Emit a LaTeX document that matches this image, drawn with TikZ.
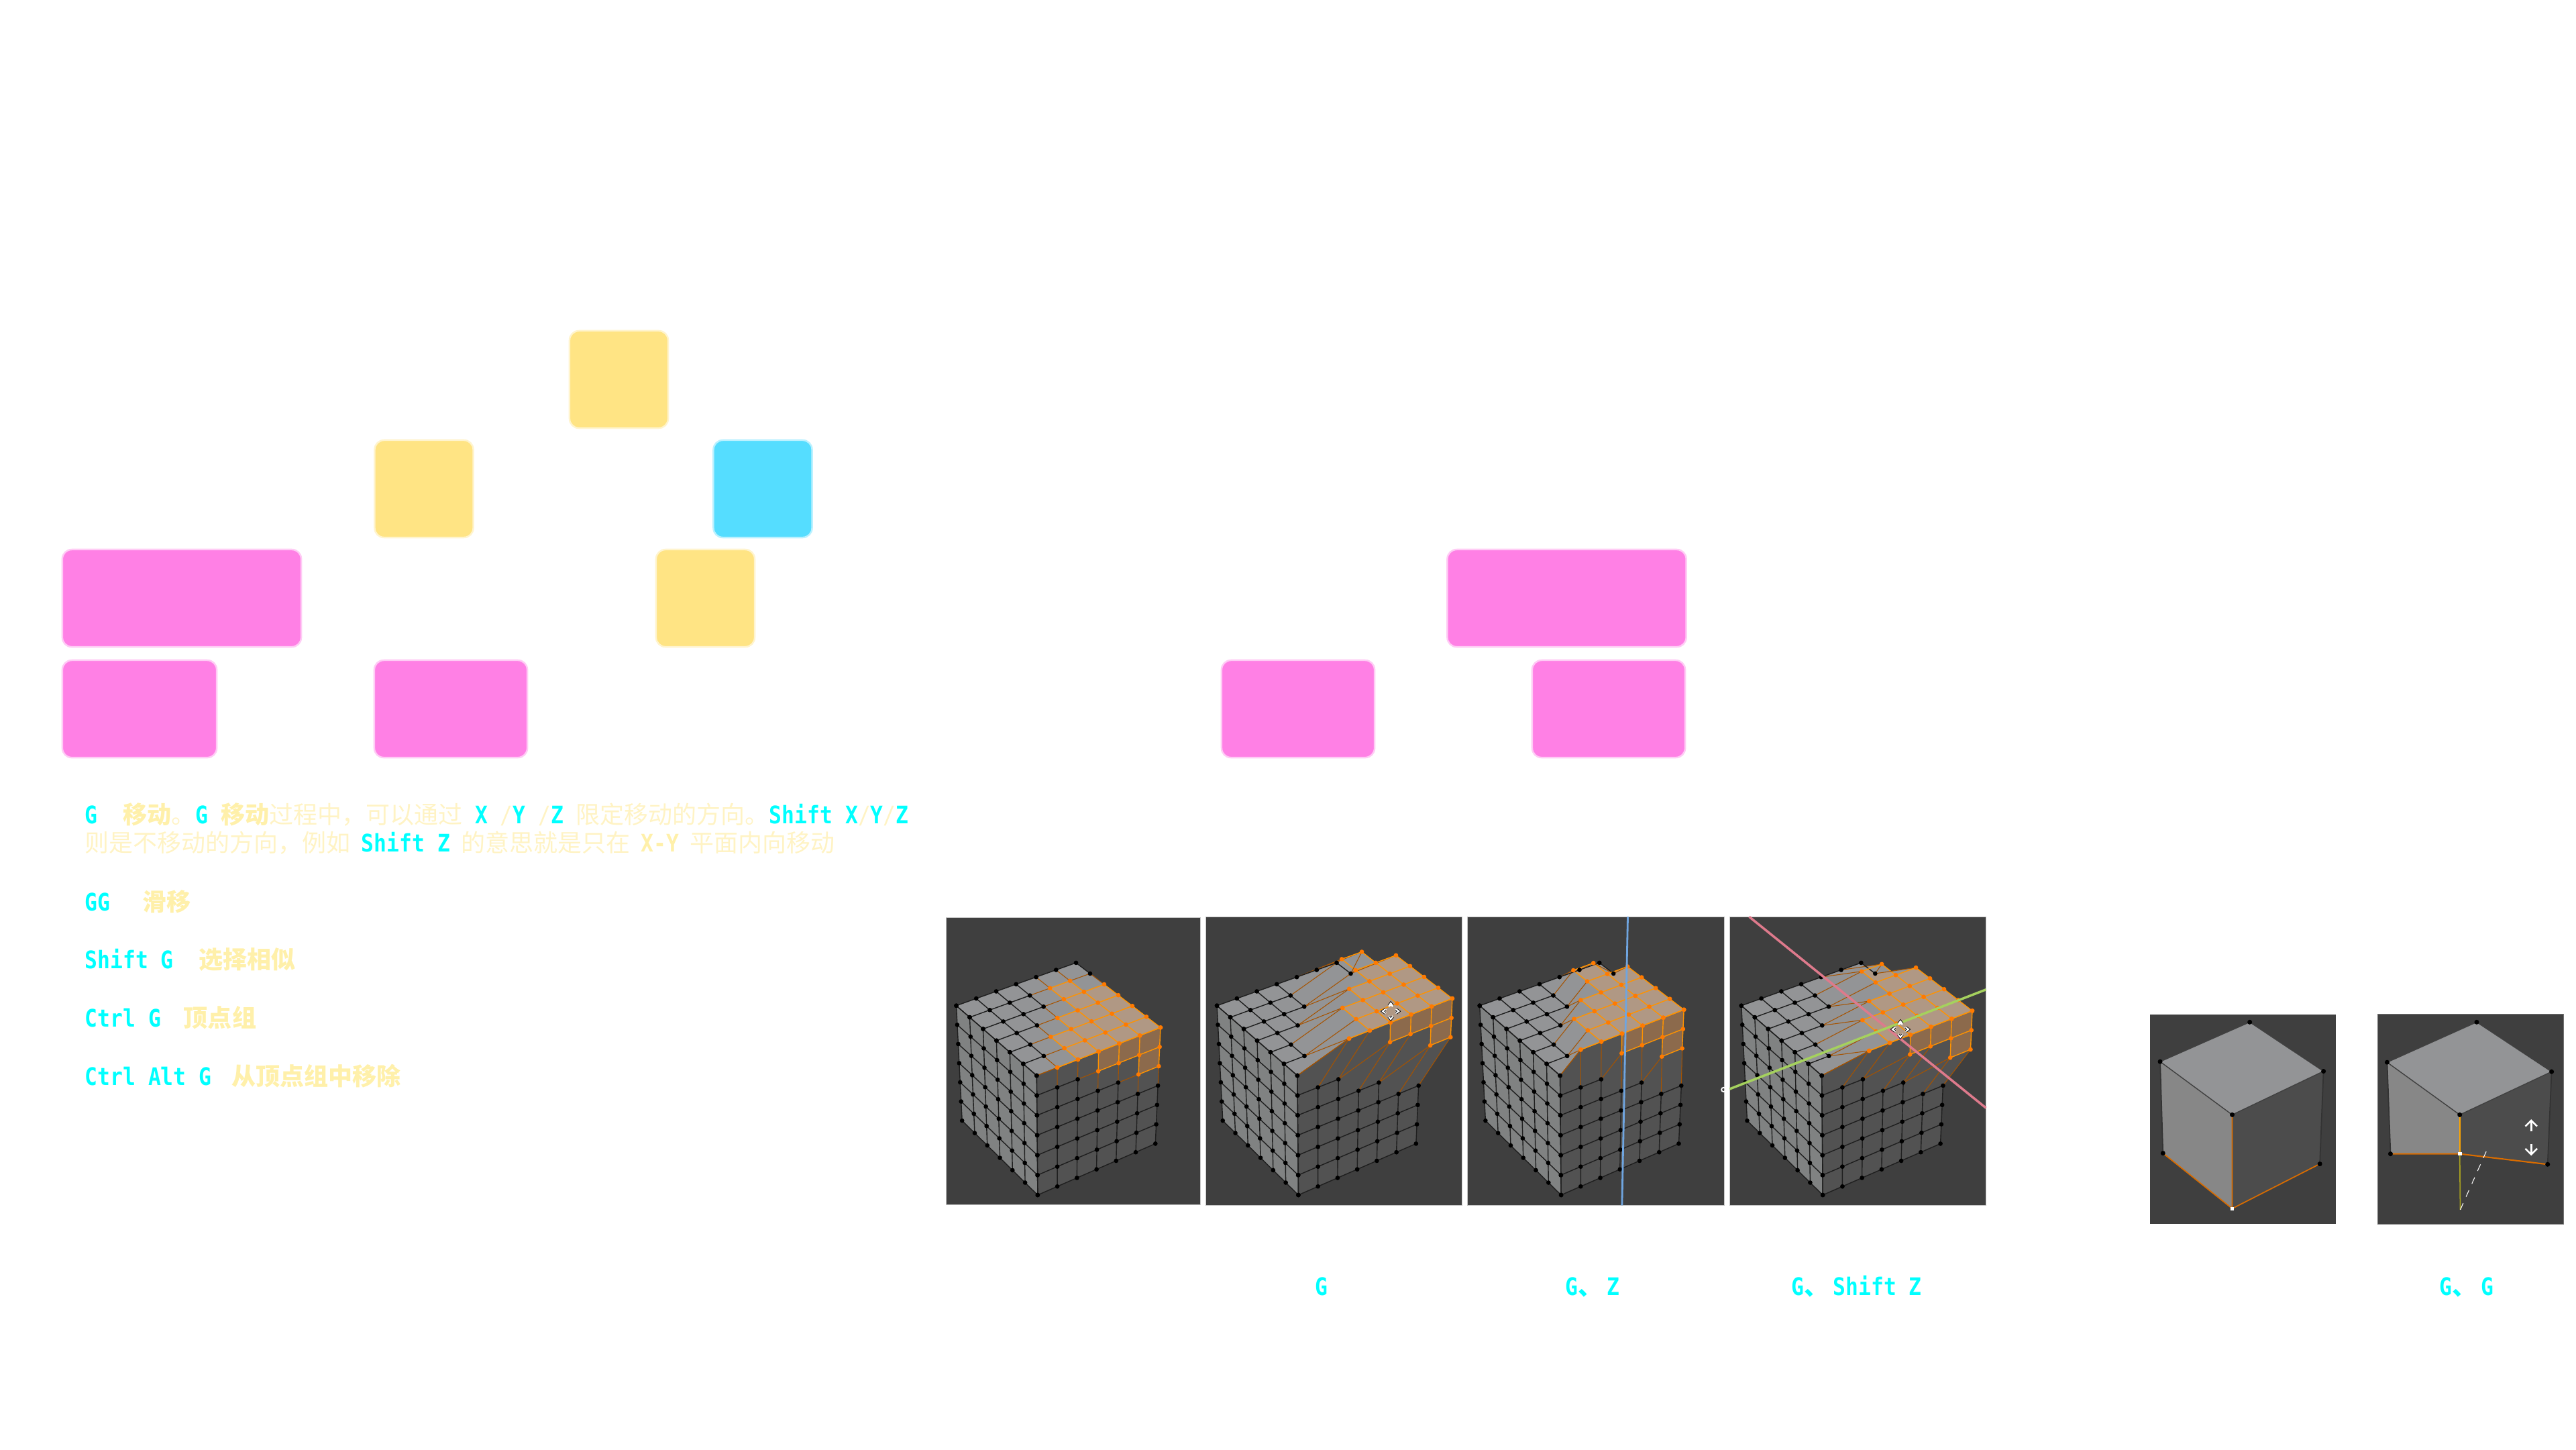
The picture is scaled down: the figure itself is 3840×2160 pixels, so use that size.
\documentclass[tikz,border=0pt]{standalone}
\usepackage{fontspec}
\usepackage{tikz}
\usetikzlibrary{arrows.meta,positioning,calc}
\setmainfont{Noto Sans CJK SC}
\newfontfamily\keyfont[FakeStretch=0.87]{DejaVu Sans Mono}

\definecolor{boxyellow}{HTML}{FFE484}
\definecolor{boxcyan}{HTML}{55DDFF}
\definecolor{boxpink}{HTML}{FF80E5}
\definecolor{keycyan}{HTML}{00FFFF}
\definecolor{notecream}{HTML}{FFF0AA}
\definecolor{thincream}{HTML}{FFF3C4}
\definecolor{panelgrey}{HTML}{3F3F3F}
\definecolor{selorange}{HTML}{FF7A00}
\definecolor{topgrey}{HTML}{939496}
\definecolor{topsel}{HTML}{B09884}
\definecolor{sidegrey}{HTML}{808282}
\definecolor{darkgrey}{HTML}{525252}
\definecolor{darksel}{HTML}{8C6A4C}

\tikzset{
  softbox/.style={rounded corners=4pt,minimum height=1.45cm,minimum width=1.47cm,inner sep=0pt,line width=0.7pt},
  yellowbox/.style={softbox,fill=boxyellow,draw=boxyellow!40},
  cyanbox/.style={softbox,fill=boxcyan,draw=boxcyan!40},
  pinkbox/.style={softbox,fill=boxpink,draw=boxpink!40},
  noteline/.style={anchor=base west,inner sep=0pt,text=thincream,font=\fontsize{10.24}{12}\selectfont},
  panel/.style={fill=panelgrey,draw=black!22,line width=0.3pt},
  meshline0/.style={draw=black!88,line width=0.4pt},
  meshline1/.style={draw=orange!65!black,line width=0.3pt},
  meshline2/.style={draw=orange!85!yellow,line width=0.4pt},
}

% text runs
\newcommand{\hk}[1]{\textcolor{keycyan}{\keyfont\bfseries #1}}
\newcommand{\hb}[1]{\textcolor{notecream}{\bfseries #1}}
\newcommand{\hm}[1]{{\keyfont #1}}

% which vertices of the mesh are selected
\def\topmin#1{\ifcase#1 7\or 6\or 4\or 3\or 1\or 1\or 2\fi}
\def\sidemax#1{\ifcase#1 -1\or 0\or 0\or 1\or 1\or 2\or 2\fi}
\def\seltop#1#2{\ifnum\topmin#1>#2 0\else 1\fi}
\def\selside#1#2{\ifnum#2>\sidemax#1 0\else 1\fi}
\newcommand{\bilin}[4]{(1-\u)*(1-\v)*#1+\u*(1-\v)*#2+(1-\u)*\v*#3+\u*\v*#4}

% subdivided cube, #2,#3 = how far the selected vertices moved
\newcommand{\meshcube}[3]{
  \foreach \a in {0,...,6}{
    \foreach \b in {0,...,6}{
      \pgfmathsetmacro\u{\a/6}
      \pgfmathsetmacro\v{\b/6}
      \edef\st{\seltop\a\b}
      \edef\sr{\selside\a\b}
      \coordinate (#1t\a\b) at ({\bilin{50}{400}{285}{647}+\st*(#2)},{\bilin{447}{255}{760}{545}+\st*(#3)});
      \coordinate (#1r\a\b) at ({\bilin{285}{647}{288}{632}+\sr*(#2)},{\bilin{760}{545}{1295}{1065}+\sr*(#3)});
      \coordinate (#1l\a\b) at ({\bilin{50}{285}{67}{288}},{\bilin{447}{760}{962}{1295}});
    }
  }
  % faces
  \foreach \a [evaluate=\a as \c using int(\a+1)] in {0,...,5}{
    \foreach \b [evaluate=\b as \d using int(\b+1)] in {0,...,5}{
      \fill[sidegrey] (#1l\a\b) -- (#1l\c\b) -- (#1l\c\d) -- (#1l\a\d) -- cycle;
      \edef\n{\the\numexpr\selside\a\b+\selside\c\b+\selside\a\d+\selside\c\d\relax}
      \ifnum\n=4 \fill[darksel] (#1r\a\b) -- (#1r\c\b) -- (#1r\c\d) -- (#1r\a\d) -- cycle;
      \else \fill[darkgrey] (#1r\a\b) -- (#1r\c\b) -- (#1r\c\d) -- (#1r\a\d) -- cycle;\fi
    }
  }
  \foreach \a [evaluate=\a as \c using int(\a+1)] in {0,...,5}{
    \foreach \b [evaluate=\b as \d using int(\b+1)] in {0,...,5}{
      \edef\n{\the\numexpr\seltop\a\b+\seltop\c\b+\seltop\a\d+\seltop\c\d\relax}
      \ifnum\n=4 \fill[topsel] (#1t\a\b) -- (#1t\c\b) -- (#1t\c\d) -- (#1t\a\d) -- cycle;
      \else \fill[topgrey] (#1t\a\b) -- (#1t\c\b) -- (#1t\c\d) -- (#1t\a\d) -- cycle;\fi
    }
  }
  % edges
  \foreach \a [evaluate=\a as \c using int(\a+1)] in {0,...,5}{
    \foreach \b in {0,...,6}{
      \draw[meshline0] (#1l\a\b) -- (#1l\c\b);
      \draw[meshline0] (#1l\b\a) -- (#1l\b\c);
      \edef\n{\the\numexpr\selside\a\b+\selside\c\b\relax}
      \draw[meshline\n] (#1r\a\b) -- (#1r\c\b);
      \edef\n{\the\numexpr\selside\b\a+\selside\b\c\relax}
      \draw[meshline\n] (#1r\b\a) -- (#1r\b\c);
      \edef\n{\the\numexpr\seltop\a\b+\seltop\c\b\relax}
      \draw[meshline\n] (#1t\a\b) -- (#1t\c\b);
      \edef\n{\the\numexpr\seltop\b\a+\seltop\b\c\relax}
      \draw[meshline\n] (#1t\b\a) -- (#1t\b\c);
    }
  }
  % vertices
  \foreach \a in {0,...,6}{
    \foreach \b in {0,...,6}{
      \fill[black] (#1l\a\b) circle (0.95pt);
      \ifnum\seltop\a\b=1 \fill[selorange] (#1t\a\b) circle (0.95pt);
      \else \fill[black] (#1t\a\b) circle (0.95pt);\fi
      \ifnum\selside\a\b=1 \fill[selorange] (#1r\a\b) circle (0.95pt);
      \else \fill[black] (#1r\a\b) circle (0.95pt);\fi
    }
  }
}

% little move cursor
\newcommand{\movecursor}[1]{
  \begin{scope}[shift={(#1)},x=0.01cm,y=-0.01cm]
    \foreach \r in {0,90,180,270}{
      \draw[black,line width=1.1pt,rotate=\r] (-3,-8) -- (0,-12) -- (3,-8);
      \draw[white,line width=0.6pt,rotate=\r] (-3,-8) -- (0,-12) -- (3,-8);
      \draw[white,line width=0.5pt,rotate=\r] (-7,-3) -- (-9,0) -- (-7,3);
    }
  \end{scope}
}

\begin{document}
\begin{tikzpicture}[x=0.01cm,y=-0.01cm]
  \useasboundingbox (0,0) rectangle (3840,2160);
  % Blurred boxes
  \node[yellowbox] (boxtop) at (922.5,565.5) {};
  \node[yellowbox] (boxleft) at (632,728.5) {};
  \node[cyanbox] (boxcyan) at (1137,728.5) {};
  \node[pinkbox,minimum width=3.56cm] (boxwide) at (271,891.5) {};
  \node[yellowbox] (boxmid) at (1051.5,891.5) {};
  \node[pinkbox,minimum width=2.30cm] (boxlow) at (208,1056.5) {};
  \node[pinkbox,minimum width=2.28cm] (boxlowb) at (672,1056.5) {};
  \node[pinkbox,minimum width=3.56cm] (boxwider) at (2335.5,891.5) {};
  \node[pinkbox,minimum width=2.28cm] (boxlowc) at (1935,1056.5) {};
  \node[pinkbox,minimum width=2.28cm] (boxlowd) at (2398,1056.5) {};

  % Notes
  \node[noteline] (noteg) at (126,1227) {\hk{G\ \ }\hb{移动}。\hk{G\ }\hb{移动}过程中，可以通过\hm{\ }\hk{X\ }\hm{/}\hk{Y\ }\hm{/}\hk{Z\ }限定移动的方向。\hk{Shift\ X}\hm{/}\hk{Y}\hm{/}\hk{Z}};
  \node[noteline] (notegb) at (126,1269) {则是不移动的方向，例如\hspace{4.6pt}\hk{Shift\ Z}\hspace{4.6pt}的意思就是只在\hspace{4.6pt}\hb{\keyfont X-Y}\hspace{4.6pt}平面内向移动};
  \node[noteline] (notegg) at (126,1357) {\hk{GG}\hspace{13.7pt}\hb{滑移}};
  \node[noteline] (noteshift) at (126,1443) {\hk{Shift\ G}\hspace{10.6pt}\hb{选择相似}};
  \node[noteline] (notectrl) at (126,1530) {\hk{Ctrl\ G}\hspace{9.7pt}\hb{顶点组}};
  \node[noteline] (notealt) at (126,1617) {\hk{Ctrl\ Alt\ G}\hspace{8.5pt}\hb{从顶点组中移除}};

  % Captions
  \node[noteline] (capg) at (1960,1930) {\hk{G}};
  \node[noteline] (capz) at (2333,1930) {\hk{G}\textcolor{keycyan}{\bfseries 、}\hspace{2pt}\hk{Z}};
  \node[noteline] (capshift) at (2670,1930) {\hk{G}\textcolor{keycyan}{\bfseries 、}\hspace{2pt}\hk{Shift\ Z}};
  \node[noteline] (capgg) at (3636,1930) {\hk{G}\textcolor{keycyan}{\bfseries 、}\hspace{2pt}\hk{G}};

  % First two shots
  \begin{scope}[shift={(1400,1350)},x=0.005102cm,y=-0.003333cm]
    \draw[panel] (20,52) rectangle (763,1338);
    \draw[panel] (779,49) rectangle (1529,1341);
    \meshcube{a}{0}{0}
    \begin{scope}[shift={(762,0)}]
      \meshcube{b}{91}{-130}
    \end{scope}
    \coordinate (cursorb) at (1320,472);
    \movecursor{cursorb}
  \end{scope}

  % Shots with axis lock
  \begin{scope}[shift={(2170,1350)},x=0.005102cm,y=-0.003333cm]
    \draw[panel] (35,49) rectangle (785,1341);
    \draw[panel] (801,49) rectangle (1550,1341);
    \begin{scope}[shift={(20,0)}]
      \meshcube{c}{0}{-80}
    \end{scope}
    \begin{scope}[shift={(785,0)}]
      \meshcube{d}{78}{-75}
    \end{scope}
    % Axis lines
    \coordinate (bluetop) at (503,49);
    \coordinate (bluelow) at (486,1341);
    \draw[color={rgb,255:red,111;green,165;blue,224},line width=0.8pt] (bluetop) -- (bluelow);
    \coordinate (redtop) at (858,49);
    \coordinate (redlow) at (1550,905);
    \coordinate (greenlow) at (801,820);
    \coordinate (greentop) at (1550,375);
    \draw[color={rgb,255:red,222;green,122;blue,140},line width=1pt] (redtop) -- (redlow);
    \draw[color={rgb,255:red,165;green,209;blue,94},line width=1pt] (greenlow) -- (greentop);
    \coordinate (cursord) at (1300,553);
    \movecursor{cursord}
    \coordinate (ringd) at (783,823);
    \draw[white,line width=0.5pt] (ringd) circle (0.9pt);
  \end{scope}

  % Plain cubes
  \begin{scope}[shift={(3180,1490)},x=0.004209cm,y=-0.003333cm]
    \draw[fill=panelgrey,draw=panelgrey] (62,67) rectangle (714,1002);
    \coordinate (eback) at (412,100);
    \coordinate (eleft) at (95,277);
    \coordinate (eright) at (673,320);
    \coordinate (efront) at (350,515);
    \coordinate (elow) at (350,935);
    \coordinate (eleftb) at (105,687);
    \coordinate (erightb) at (660,735);
    \fill[topgrey] (eback) -- (eright) -- (efront) -- (eleft) -- cycle;
    \fill[black!47] (eleft) -- (efront) -- (elow) -- (eleftb) -- cycle;
    \fill[black!70] (efront) -- (eright) -- (erightb) -- (elow) -- cycle;
    \draw[black!75,line width=0.4pt] (eleft) -- (eback) -- (eright) -- (efront) -- cycle;
    \draw[black!80,line width=0.5pt] (eleft) -- (eleftb) (eright) -- (erightb);
    \draw[orange!85!black,line width=0.5pt] (eleftb) -- (elow) -- (erightb) (efront) -- (elow);
    \foreach \p in {eback,eleft,eright,efront,eleftb,erightb}{
      \fill[black] (\p) circle (1pt);
    }
    \fill[white] ($(elow)+(-7,-7)$) rectangle ($(elow)+(7,7)$);

    \draw[fill=panelgrey,draw=black!55,line width=0.3pt] (866,65) rectangle (1522,1004);
    \coordinate (gback) at (1215,100);
    \coordinate (gleft) at (898,280);
    \coordinate (gright) at (1480,322);
    \coordinate (gfront) at (1155,515);
    \coordinate (gmid) at (1155,690);
    \coordinate (glow) at (1157,940);
    \coordinate (gleftb) at (910,690);
    \coordinate (grightb) at (1466,737);
    \coordinate (gdash) at (1252,670);
    \fill[topgrey] (gback) -- (gright) -- (gfront) -- (gleft) -- cycle;
    \fill[black!47] (gleft) -- (gfront) -- (gmid) -- (gleftb) -- cycle;
    \fill[black!70] (gfront) -- (gright) -- (grightb) -- (gmid) -- cycle;
    \draw[black!75,line width=0.4pt] (gleft) -- (gback) -- (gright) -- (gfront) -- cycle;
    \draw[black!80,line width=0.5pt] (gleft) -- (gleftb) (gright) -- (grightb);
    \draw[orange!85!black,line width=0.6pt] (gleftb) -- (gmid) -- (grightb);
    \draw[orange!70!yellow,line width=0.6pt] (gfront) -- (gmid);
    \draw[olive!80!white,line width=0.5pt] (gmid) -- (glow);
    \draw[white,dashed,line width=0.3pt] (glow) -- (gdash);
    \foreach \p in {gback,gleft,gright,gfront,gleftb,grightb}{
      \fill[black] (\p) circle (1pt);
    }
    \fill[white] ($(gmid)+(-7,-7)$) rectangle ($(gmid)+(7,7)$);
    % Slide arrows
    \coordinate (upfoot) at (1408,590);
    \coordinate (uptip) at (1408,535);
    \coordinate (downfoot) at (1408,645);
    \coordinate (downtip) at (1408,698);
    \draw[white,line width=0.7pt,-{Straight Barb[length=2.5pt,width=5pt]}] (upfoot) -- (uptip);
    \draw[white,line width=0.7pt,-{Straight Barb[length=2.5pt,width=5pt]}] (downfoot) -- (downtip);
  \end{scope}
\end{tikzpicture}
\end{document}
